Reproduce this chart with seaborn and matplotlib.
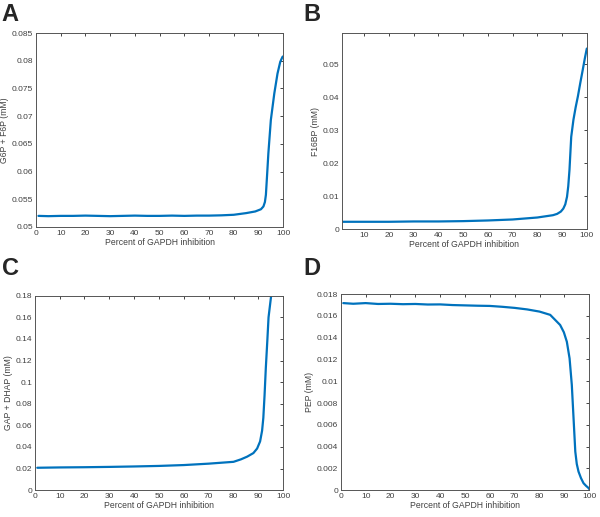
import numpy as np
import pandas as pd
import matplotlib
matplotlib.use("Agg")
import matplotlib.pyplot as plt
import seaborn as sns

# Values
x_a = [1, 5, 10, 15, 20, 25, 30, 35, 40, 45, 50, 55, 60, 65, 70, 75, 80, 85, 88.7, 91, 92, 92.6, 93, 93.5, 94, 95, 96.4, 97.7, 98.8, 99.7, 100]
y_a = [0.0520, 0.05195, 0.0520, 0.0520, 0.05205, 0.0520, 0.05195, 0.0520, 0.05205, 0.0520, 0.0520, 0.05205, 0.0520, 0.05205, 0.05205, 0.0521, 0.0522, 0.0525, 0.0528, 0.0532, 0.0537, 0.0545, 0.0558, 0.0595, 0.0633, 0.0693, 0.0741, 0.0777, 0.0798, 0.0807, 0.0808]

x_b = [1, 10, 20, 30, 40, 50, 60, 70, 80, 86.3, 88, 89.5, 90.5, 91.3, 92, 92.5, 93, 93.7, 94.6, 95.5, 96.4, 97.4, 98.4, 99.2, 100]
y_b = [0.0022, 0.0022, 0.0022, 0.0023, 0.0023, 0.0024, 0.0026, 0.0029, 0.0035, 0.0042, 0.0046, 0.0053, 0.0062, 0.0075, 0.0098, 0.0130, 0.0180, 0.0280, 0.0332, 0.0370, 0.0403, 0.0445, 0.0485, 0.0518, 0.0548]

x_c = [1, 10, 20, 30, 40, 50, 60, 70, 80, 83, 85.5, 88, 89.5, 90.7, 91.5, 92, 92.5, 93, 93.6, 94.1, 95.2, 96]
y_c = [0.0207, 0.0210, 0.0212, 0.0215, 0.0219, 0.0224, 0.0232, 0.0245, 0.0262, 0.0285, 0.0310, 0.0343, 0.0385, 0.0451, 0.0550, 0.0669, 0.0880, 0.1130, 0.1380, 0.1600, 0.1810, 0.2000]

x_d = [1, 5, 10, 15, 20, 25, 30, 35, 40, 45, 50, 55, 60, 65, 70, 75, 80, 84.3, 88.3, 89.8, 91, 92.1, 93, 93.7, 94.4, 95, 95.7, 96.7, 97.7, 98.7, 99.7, 100]
y_d = [0.01718, 0.01712, 0.01718, 0.01710, 0.01712, 0.01708, 0.01710, 0.01705, 0.01706, 0.01700, 0.01697, 0.01694, 0.01692, 0.01684, 0.01674, 0.01660, 0.01640, 0.01610, 0.01517, 0.01450, 0.01363, 0.0121, 0.00966, 0.0066, 0.00354, 0.0024, 0.0017, 0.0011, 0.00064, 0.0004, 0.0002, 0.0001]

xlabel = "Percent of GAPDH inhibition"
ylabels = ["G6P + F6P (mM)", "F16BP (mM)", "GAP + DHAP (mM)", "PEP (mM)"]
letters = ["A", "B", "C", "D"]
xlims = [(0, 100), (1, 100), (0, 100), (0, 100)]
ylims = [(0.05, 0.085), (0, 0.0595), (0, 0.18), (0, 0.018)]
yticks = [np.arange(0.05, 0.0851, 0.005), np.arange(0, 0.051, 0.01),
          np.arange(0, 0.181, 0.02), np.arange(0, 0.0181, 0.002)]
xticks = [np.arange(0, 101, 10), np.arange(10, 101, 10),
          np.arange(0, 101, 10), np.arange(0, 101, 10)]

sns.set_style("white")
plt.rcParams['font.family'] = ['Liberation Sans', 'DejaVu Sans']

fig = plt.figure(figsize=(6, 5.17), dpi=100)
positions = [[0.060, 0.561, 0.412, 0.375],
             [0.570, 0.557, 0.408, 0.379],
             [0.058, 0.052, 0.414, 0.376],
             [0.568, 0.052, 0.414, 0.379]]
letter_pos = [(0.003, 0.995), (0.505, 0.995), (0.003, 0.503), (0.505, 0.503)]

data = [(x_a, y_a), (x_b, y_b), (x_c, y_c), (x_d, y_d)]
for i, (xs, ys) in enumerate(data):
    ax = fig.add_axes(positions[i])
    df = pd.DataFrame({"x": xs, "y": ys})
    sns.lineplot(data=df, x="x", y="y", ax=ax, color="#0072BD", linewidth=1.6)
    ax.set_xlim(xlims[i])
    ax.set_ylim(ylims[i])
    ax.set_xticks(xticks[i])
    ax.set_yticks(yticks[i])
    ax.set_yticklabels([f"{v:g}" for v in np.round(yticks[i], 4)])
    ax.tick_params(direction="in", length=2.5, width=0.6, labelsize=6,
                   colors="#262626", top=True, right=True, pad=2)
    ax.tick_params(axis="both", labelcolor="#404040")
    for s in ax.spines.values():
        s.set_color("#555555")
        s.set_linewidth(0.7)
    ax.set_xlabel(xlabel, fontsize=6.2, color="#404040", labelpad=1)
    ax.set_ylabel(ylabels[i], fontsize=6.2, color="#404040", labelpad=2)
    fig.text(letter_pos[i][0], letter_pos[i][1], letters[i], fontsize=17,
             fontweight="bold", va="top", ha="left")

fig.savefig("out.png", dpi=100)
